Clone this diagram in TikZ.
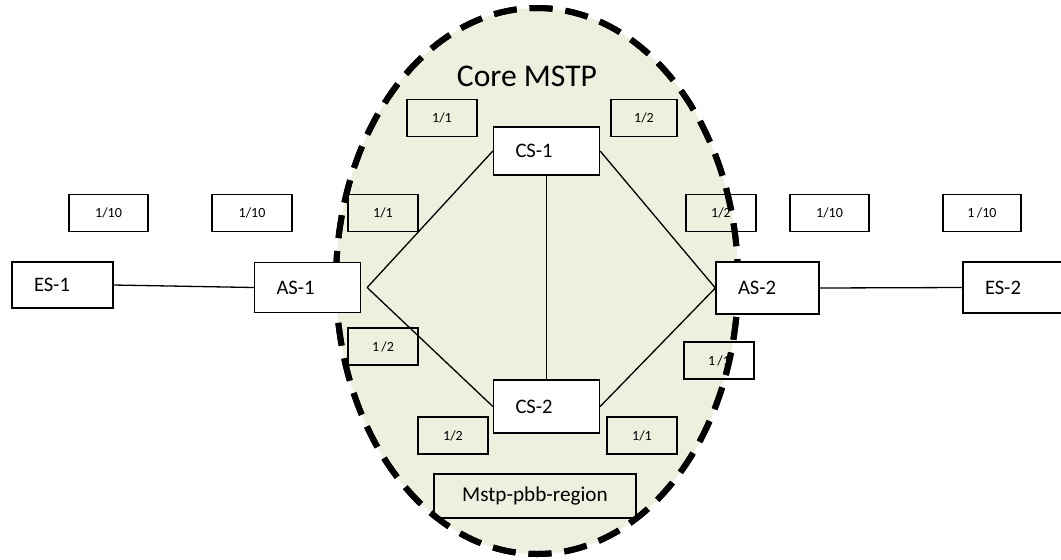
\documentclass[tikz,border=0pt]{standalone}
\usepackage{fontspec}
\setmainfont{Carlito}
\usetikzlibrary{positioning}
\definecolor{regiongreen}{RGB}{235,241,222}
\tikzset{
  dev/.style={draw,fill=white,line width=0.65pt,align=left,font=\fontsize{10.3}{12}\selectfont,
              inner xsep=11pt,inner ysep=0pt,text width=#1,minimum height=25pt},
  dev/.default=31pt,
  port/.style={draw,line width=0.65pt,align=center,font=\fontsize{7}{8}\selectfont,
               inner sep=0pt,minimum width=#1,minimum height=18.5pt},
  port/.default=35pt,
  link/.style={draw=black,line width=0.65pt},
  region/.style={draw=black,fill=regiongreen,line width=3pt,dash pattern=on 11.5pt off 6.5pt},
}
\begin{document}
\begin{tikzpicture}[x=0.5pt,y=-0.5pt]
\useasboundingbox (0,0) rectangle (1061,559);
% --- core region ---
\path[region] (537,281) ellipse [x radius=201,y radius=273];
\node[font=\fontsize{15.8}{18}\selectfont] (core) at (527,76) {Core MSTP};
% --- port labels ---
\node[port=39.5pt] (p10a) at (108.5,213) {1/10};
\node[port=40pt] (p10b) at (252,213) {1/10};
\node[port] (pl11) at (383,213) {1/1};
\node[port] (pt11) at (442,118) {1/1};
\node[port=33pt] (pt12) at (644,118) {1/2};
\node[port] (pr12) at (721,213) {1/2};
\node[port=39.5pt] (p10c) at (829.5,213) {1/10};
\node[port=39pt] (p10d) at (982,213) {1\,/10};
\node[port] (pl12) at (383,346.5) {1\,/2};
\node[port] (pr11) at (719,360.5) {1\,/1};
\node[port] (pb12) at (453,435.5) {1/2};
\node[port] (pb11) at (642,435.5) {1/1};
\node[draw,line width=0.65pt,minimum width=101pt,minimum height=22pt,inner sep=0pt,
      font=\fontsize{10.6}{12}\selectfont] (mstp) at (535,496) {Mstp-pbb-region};
% region border passes over the labels
\path[region,fill=none] (537,281) ellipse [x radius=201,y radius=273];
% --- switches ---
\node[dev=28.5pt,minimum height=23pt] (es1) at (62.5,285) {ES-1};
\node[dev] (as1) at (307.5,287.5) {AS-1};
\node[dev,minimum height=24pt] (cs1) at (546.5,151) {CS-1};
\node[dev,minimum height=26.5pt] (cs2) at (546.5,406.5) {CS-2};
\node[dev=29.5pt,minimum height=26pt] (as2) at (767.5,288) {AS-2};
\node[dev=31.5pt,minimum height=25.5pt] (es2) at (1016.5,287.5) {ES-2};
% --- links ---
\draw[link] (es1.east) -- (as1.west);
\draw[link] ([xshift=3pt]as1.east) -- (cs1.west);
\draw[link] ([xshift=3pt]as1.east) -- (cs2.west);
\draw[link] (cs1.south) -- (cs2.north);
\draw[link] (cs1.east) -- (as2.west);
\draw[link] (cs2.east) -- (as2.west);
\draw[link] (as2.east) -- (es2.west);
\end{tikzpicture}
\end{document}
